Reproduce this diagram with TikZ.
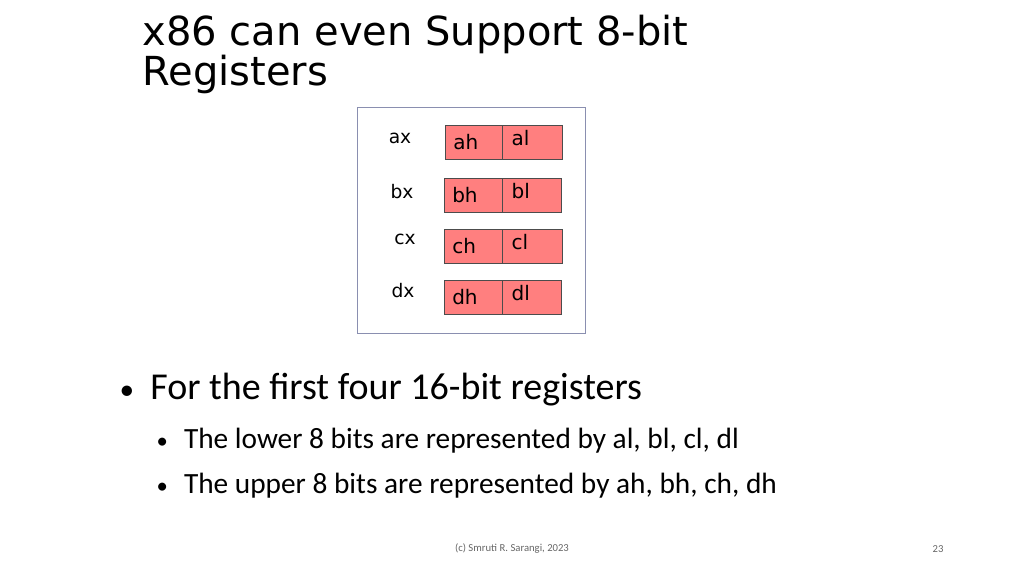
\documentclass[tikz,border=0pt]{standalone}
\usepackage{fontspec}
\setmainfont{Carlito}
\newfontfamily\dejavu{DejaVu Sans}
\definecolor{regfill}{HTML}{FF7F7F}
\definecolor{frame}{HTML}{8A8FB0}
\begin{document}
\begin{tikzpicture}[x=0.75pt,y=-0.75pt,
    reg/.style = {draw=black!70, fill=regfill, minimum height=25.5pt, inner sep=0pt, anchor=north west},
    rtxt/.style = {anchor=west, inner sep=0pt, font=\dejavu\fontsize{15}{17}\selectfont},
    lbl/.style = {font=\dejavu\fontsize{14}{16}\selectfont},
    bul/.style = {anchor=west, font=\fontsize{28.5}{32}\selectfont}]
  \useasboundingbox (0,0) rectangle (1024,575);

  \node[anchor=west, align=left, font=\dejavu\fontsize{30}{28}\selectfont] (title) at (138,54) {x86 can even Support 8-bit\\Registers};

  \draw[frame] (357,107) rectangle (585,333);

  % registers
  \foreach \r/\x/\y/\w/\lx/\ly in {a/445/125/118/400/138, b/444/178/117/402/192, c/444/229/118/405/239, d/444/280/117/403/291}{
    \node[reg, minimum width=43.5pt] (\r h) at (\x,\y) {};
    \node[reg, minimum width={(\w-58)*0.75pt}] (\r l) at (502,\y) {};
    \node[rtxt] at ([xshift=6pt,yshift=0.5pt]\r h.west) {\r h};
    \node[rtxt] at ([xshift=7pt,yshift=3pt]\r l.west) {\r l};
    \node[lbl] (\r x) at (\lx,\ly) {\r x};
  }

  \node[bul] (b1) at (115,390) {{\fontsize{22}{24}\selectfont\textbullet}\hspace{12pt}For the first four 16-bit registers};
  \node[bul, font=\fontsize{22}{26}\selectfont] (b2) at (152,441) {{\fontsize{17}{20}\selectfont\textbullet}\hspace{12pt}The lower 8 bits are represented by al, bl, cl, dl};
  \node[bul, font=\fontsize{22}{26}\selectfont] (b3) at (152,486) {{\fontsize{17}{20}\selectfont\textbullet}\hspace{12pt}The upper 8 bits are represented by ah, bh, ch, dh};

  \node[font=\fontsize{8}{10}\selectfont, text=black!60] (foot) at (512,549) {(c) Smruti R. Sarangi, 2023};
  \node[font=\fontsize{8}{10}\selectfont, text=black!60] (page) at (938,549) {23};
\end{tikzpicture}
\end{document}
